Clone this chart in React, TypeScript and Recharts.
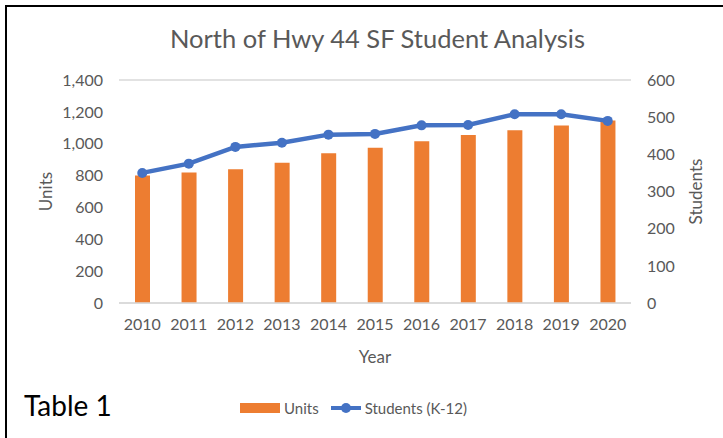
import {
  ComposedChart,
  Bar,
  Line,
  XAxis,
  YAxis,
  CartesianGrid,
  Legend,
} from "recharts";

const years = ["2010", "2011", "2012", "2013", "2014", "2015", "2016", "2017", "2018", "2019", "2020"];
const units = [800, 820, 840, 880, 940, 975, 1015, 1055, 1085, 1115, 1145];
const students = [350, 375, 420, 431, 453, 455, 478, 479, 508, 508, 490];
const unitTicks = [0, 200, 400, 600, 800, 1000, 1200, 1400];
const studentTicks = [0, 100, 200, 300, 400, 500, 600];

const data = years.map((year, i) => ({
  year,
  units: units[i],
  students: students[i],
}));

const FONT = "Lato, 'Open Sans', sans-serif";
const GREY = "#595959";
const ORANGE = "#ED7D31";
const BLUE = "#4472C4";

// rotated axis title, placed inside the axis box
const sideLabel = (text: string, dx: number) => (props: any) => {
  const { x, y, height } = props.viewBox;
  const cx = x + dx;
  const cy = y + height / 2;
  return (
    <text
      x={cx}
      y={cy}
      transform={`rotate(-90 ${cx} ${cy})`}
      textAnchor="middle"
      dominantBaseline="central"
      fill={GREY}
      fontSize={17}
      fontFamily={FONT}
    >
      {text}
    </text>
  );
};

const yearLabel = (props: any) => {
  const { x, y, width } = props.viewBox;
  return (
    <text
      x={x + width / 2}
      y={y + 53}
      textAnchor="middle"
      dominantBaseline="central"
      fill={GREY}
      fontSize={17}
      fontFamily={FONT}
    >
      Year
    </text>
  );
};

const LegendContent = ({ payload }: any) => {
  // bars first, like the Excel legend
  const items = [...(payload || [])].sort(
    (a: any, b: any) => (a.type === "rect" ? 0 : 1) - (b.type === "rect" ? 0 : 1)
  );
  return (
    <div
      style={{
        display: "flex",
        justifyContent: "center",
        alignItems: "center",
        height: 30,
        paddingRight: 4,
        fontFamily: FONT,
        fontSize: 15,
        color: GREY,
      }}
    >
      {items.map((p: any) => (
        <div key={p.value} style={{ display: "flex", alignItems: "center", marginRight: 12 }}>
          {p.type === "rect" ? (
            <svg width={40} height={10} style={{ marginRight: 4 }}>
              <rect x={0} y={0} width={40} height={10} fill={ORANGE} />
            </svg>
          ) : (
            <svg width={30} height={12} style={{ marginRight: 4 }}>
              <line x1={0} y1={6} x2={30} y2={6} stroke={BLUE} strokeWidth={4} />
              <circle cx={15} cy={6} r={5} fill={BLUE} />
            </svg>
          )}
          <span>{p.value}</span>
        </div>
      ))}
    </div>
  );
};

export default function App() {
  return (
    <div
      style={{
        position: "absolute",
        left: 0,
        top: 0,
        width: 723,
        height: 438,
        background: "#fff",
        overflow: "hidden",
      }}
    >
      <div
        style={{
          position: "absolute",
          left: 5,
          top: 5,
          right: 0,
          bottom: 0,
          borderLeft: "2px solid #000",
          borderTop: "2px solid #000",
        }}
      />
      <div
        style={{
          position: "absolute",
          left: 0,
          width: 755,
          top: 23,
          textAlign: "center",
          fontFamily: FONT,
          fontSize: 25.5,
          color: GREY,
        }}
      >
        North of Hwy 44 SF Student Analysis
      </div>
      <div
        style={{
          position: "absolute",
          left: 24,
          top: 388,
          fontFamily: FONT,
          fontSize: 28,
          color: "#000",
        }}
      >
        Table 1
      </div>
      <ComposedChart
        width={723}
        height={438}
        data={data}
        margin={{ top: 80, right: 0, bottom: 15, left: 0 }}
        barCategoryGap={0}
      >
        <CartesianGrid vertical={false} stroke="#d9d9d9" strokeWidth={1.5} />
        <XAxis
          dataKey="year"
          height={90}
          axisLine={{ stroke: "#d9d9d9", strokeWidth: 1.5 }}
          tickLine={false}
          tickMargin={10}
          tick={{ fill: GREY, fontSize: 16, fontFamily: FONT }}
          label={yearLabel}
        />
        <YAxis
          yAxisId="left"
          width={119}
          domain={[0, 1400]}
          ticks={unitTicks}
          tickFormatter={(v: number) => v.toLocaleString("en-US")}
          axisLine={false}
          tickLine={false}
          tickMargin={10}
          tick={{ fill: GREY, fontSize: 16, fontFamily: FONT }}
          label={sideLabel("Units", 45)}
        />
        <YAxis
          yAxisId="right"
          orientation="right"
          width={92}
          domain={[0, 600]}
          ticks={studentTicks}
          axisLine={false}
          tickLine={false}
          tickMargin={10}
          tick={{ fill: GREY, fontSize: 16, fontFamily: FONT }}
          label={sideLabel("Students", 64)}
        />
        <Legend
          verticalAlign="bottom"
          wrapperStyle={{ height: 30 }}
          content={<LegendContent />}
        />
        <Bar
          yAxisId="left"
          dataKey="units"
          name="Units"
          fill={ORANGE}
          barSize={15}
          legendType="rect"
          isAnimationActive={false}
        />
        <Line
          yAxisId="right"
          dataKey="students"
          name="Students (K-12)"
          stroke={BLUE}
          strokeWidth={4.5}
          dot={{ r: 5, fill: BLUE, stroke: BLUE, strokeWidth: 0 }}
          activeDot={false}
          legendType="line"
          isAnimationActive={false}
        />
      </ComposedChart>
    </div>
  );
}
